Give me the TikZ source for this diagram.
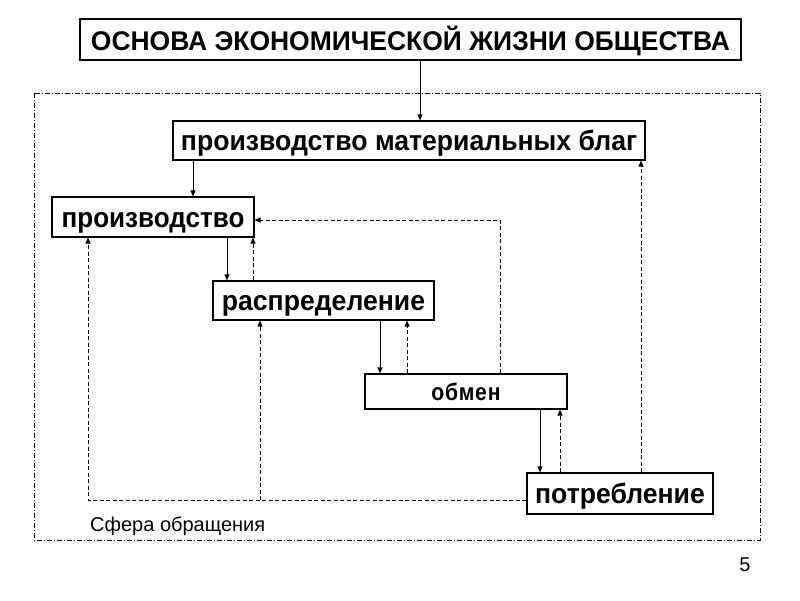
\documentclass[tikz,border=0pt]{standalone}
\usepackage{fontspec}
\usepackage{graphicx}
\setmainfont{Liberation Sans}
\usetikzlibrary{arrows.meta}
\newcommand\sqz[2]{\scalebox{#1}[1]{#2}}
\begin{document}
\begin{tikzpicture}[x=1pt,y=-1pt,
  box/.style={draw,line width=1.1pt,inner sep=0pt,align=center},
  lbl/.style={font=\fontsize{28}{32}\selectfont\bfseries,text height=20pt,text depth=0pt},
  arr/.style={line width=0.9pt,-{Triangle[length=6pt,width=5pt]}},
  darr/.style={line width=0.9pt,dash pattern=on 4pt off 2.5pt,-{Triangle[length=6pt,width=5pt]}},
  frame/.style={line width=0.9pt,dash pattern=on 5pt off 2pt on 1pt off 2pt}]
\useasboundingbox (0,0) rectangle (800,600);
\draw[frame] (34,93) rectangle (760,540);
\node[box,minimum width=661pt,minimum height=41pt,font=\fontsize{27}{30}\selectfont\bfseries,text height=22pt,text depth=0pt] (top) at (410.5,39.5) {\sqz{0.98}{ОСНОВА ЭКОНОМИЧЕСКОЙ ЖИЗНИ ОБЩЕСТВА}};
\node[box,lbl,minimum width=472pt,minimum height=39pt] (pmb) at (409,140.5) {\sqz{0.95}{производство материальных благ}};
\node[box,lbl,minimum width=202pt,minimum height=40pt] (proizv) at (153,217) {\sqz{0.93}{производство}};
\node[box,lbl,minimum width=221pt,minimum height=39pt] (raspr) at (323.5,300.5) {\sqz{0.95}{распределение}};
\node[box,minimum width=202pt,minimum height=35pt,font=\fontsize{24}{27}\selectfont\bfseries,text height=18pt,text depth=0pt] (obmen) at (466,391.5) {\sqz{0.88}{\addfontfeature{LetterSpace=4}обмен}};
\node[box,lbl,minimum width=186pt,minimum height=41pt] (potr) at (620,493.5) {\sqz{0.95}{потребление}};
\node[anchor=base west,font=\fontsize{20}{24}\selectfont,inner sep=0pt] (sfera) at (90,531) {Сфера обращения};
\node[font=\fontsize{20}{24}\selectfont,inner sep=0pt] (num) at (745,565) {5};
% solid arrows
\coordinate (xa) at (420,0);
\coordinate (xb) at (193,0);
\coordinate (xc) at (227,0);
\coordinate (xd) at (380,0);
\coordinate (xe) at (540,0);
\draw[arr] (top.south -| xa) -- (pmb.north -| xa);
\draw[arr] (pmb.south -| xb) -- (proizv.north -| xb);
\draw[arr] (proizv.south -| xc) -- (raspr.north -| xc);
\draw[arr] (raspr.south -| xd) -- (obmen.north -| xd);
\draw[arr] (obmen.south -| xe) -- (potr.north -| xe);
% dashed back arrows
\coordinate (ya) at (253,0);
\coordinate (yb) at (407,0);
\coordinate (yc) at (560,0);
\coordinate (yd) at (641,0);
\draw[darr] (raspr.north -| ya) -- (proizv.south -| ya);
\draw[darr] (obmen.north -| yb) -- (raspr.south -| yb);
\draw[darr] (potr.north -| yc) -- (obmen.south -| yc);
\draw[darr] (potr.north -| yd) -- (pmb.south -| yd);
\coordinate (c1) at (500,220);
\draw[darr] (obmen.north -| c1) -- (c1) -- (c1 -| proizv.east);
\coordinate (c2) at (88,500);
\coordinate (c3) at (260,500);
\draw[darr] (potr.west |- c2) -- (c2) -- (c2 |- proizv.south);
\draw[darr] (c3) -- (c3 |- raspr.south);
\end{tikzpicture}
\end{document}
